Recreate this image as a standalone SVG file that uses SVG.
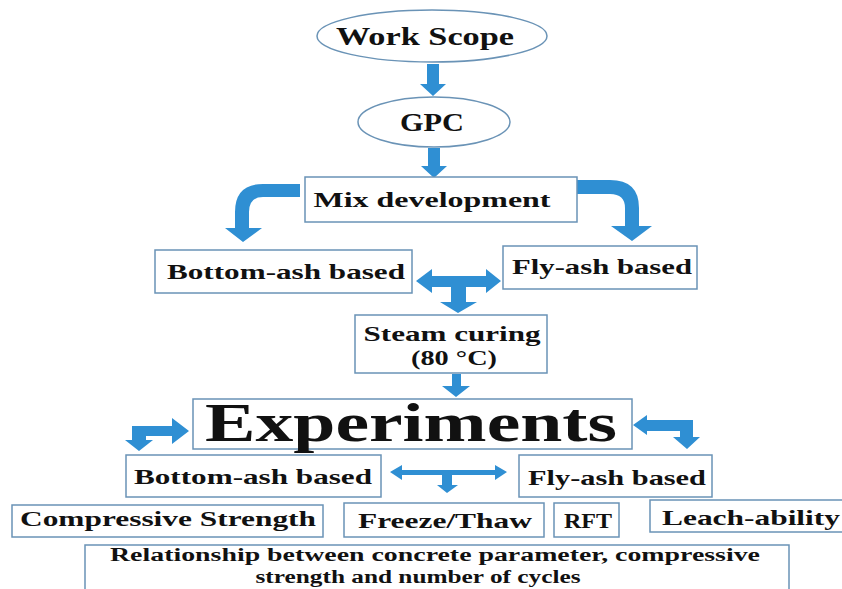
<svg xmlns="http://www.w3.org/2000/svg" width="842" height="589" viewBox="0 0 842 589">
<style>
.bx{fill:#fff;stroke:#6a93b6;stroke-width:1.5}
.el{fill:#fff;stroke:#6a93b6;stroke-width:1.5}
.ar{fill:#2f8fd3}
text{font-family:"Liberation Serif","Times New Roman",serif;font-weight:bold;fill:#111;text-anchor:middle}
.t20{font-size:22px}
.t18{font-size:18px}
</style>
<rect width="842" height="589" fill="#fff"/>
<g id="connectors">
<path class="ar" d="M427,64 L439,64 L439,84 L446,84 L433,96 L420,84 L427,84 Z"/>
<path class="ar" d="M428,148 L440,148 L440,166 L447,166 L434,178 L421,166 L428,166 Z"/>
<path class="ar" d="M300,184 L263,184 Q235,184 235,212 L235,228 L225,228 L243,242 L262,228 L249,228 L249,212 Q249,197 263,197 L300,197 Z"/>
<path class="ar" d="M575,180 L610,180 Q639,180 639,208 L639,226 L652,226 L632,241 L611,226 L625,226 L625,208 Q625,194 610,194 L575,194 Z"/>
<path class="ar" d="M416,281 L432,269 L432,276 L486,276 L486,269 L501,281 L486,293 L486,287 L466,287 L466,302 L477,302 L458,313 L440,302 L451,302 L451,287 L432,287 L432,293 Z"/>
<path class="ar" d="M452,374 L461,374 L461,386 L470,386 L456,397 L442,386 L452,386 Z"/>
<path class="ar" d="M172,418 L189,431 L172,444 L172,436 L146,436 L146,440 L153,440 L139,451 L125,440 L132,440 L132,426 L172,426 Z"/>
<path class="ar" d="M633,425 L647,415 L647,420 L693,420 L693,437 L700,437 L687,449 L673,437 L680,437 L680,431 L647,431 L647,435 Z"/>
<path class="ar" d="M390,472 L402,465 L402,470 L495,470 L495,465 L507,472 L495,480 L495,475 L452,475 L452,485 L458,485 L447,493 L437,485 L442,485 L442,475 L402,475 L402,480 Z"/>
</g>
<g id="work-scope"><ellipse class="el" cx="432" cy="36" rx="115" ry="26"/><text x="425" y="45" style="font-size:26px" textLength="178" lengthAdjust="spacingAndGlyphs">Work Scope</text></g>
<g id="gpc"><ellipse class="el" cx="434" cy="122" rx="76" ry="25"/><text x="432" y="131" style="font-size:26px" textLength="64" lengthAdjust="spacingAndGlyphs">GPC</text></g>
<g id="mix-development"><rect class="bx" x="305" y="177" width="272" height="45"/><text class="t20" x="432" y="207" textLength="237" lengthAdjust="spacingAndGlyphs">Mix development</text></g>
<g id="bottom-ash-1"><rect class="bx" x="155" y="250" width="257" height="43"/><text class="t20" x="286" y="279" textLength="238" lengthAdjust="spacingAndGlyphs">Bottom-ash based</text></g>
<g id="fly-ash-1"><rect class="bx" x="503" y="246" width="194" height="43"/><text class="t20" x="602" y="274" textLength="180" lengthAdjust="spacingAndGlyphs">Fly-ash based</text></g>
<g id="steam-curing"><rect class="bx" x="355" y="315" width="192" height="58"/><text class="t20" x="452" y="341" textLength="177" lengthAdjust="spacingAndGlyphs">Steam curing</text><text class="t20" x="454" y="365" textLength="86" lengthAdjust="spacingAndGlyphs">(80 °C)</text></g>
<g id="experiments"><rect class="bx" x="193" y="399" width="439" height="50"/><text x="411" y="441" style="font-size:55px" textLength="412" lengthAdjust="spacingAndGlyphs">Experiments</text></g>
<g id="bottom-ash-2"><rect class="bx" x="126" y="455" width="255" height="42"/><text class="t20" x="253" y="484" textLength="238" lengthAdjust="spacingAndGlyphs">Bottom-ash based</text></g>
<g id="fly-ash-2"><rect class="bx" x="519" y="455" width="193" height="42"/><text class="t20" x="617" y="485" textLength="178" lengthAdjust="spacingAndGlyphs">Fly-ash based</text></g>
<g id="compressive-strength"><rect class="bx" x="12" y="505" width="311" height="32"/><text class="t20" x="168" y="526" textLength="296" lengthAdjust="spacingAndGlyphs">Compressive Strength</text></g>
<g id="freeze-thaw"><rect class="bx" x="344" y="503" width="200" height="34"/><text class="t20" x="445" y="528" textLength="174" lengthAdjust="spacingAndGlyphs">Freeze/Thaw</text></g>
<g id="rft"><rect class="bx" x="554" y="503" width="65" height="34"/><text class="t20" x="588" y="528" textLength="48" lengthAdjust="spacingAndGlyphs">RFT</text></g>
<g id="leach-ability"><rect class="bx" x="650" y="500" width="200" height="32"/><text class="t20" x="751" y="525" textLength="178" lengthAdjust="spacingAndGlyphs">Leach-ability</text></g>
<g id="relationship"><rect class="bx" x="85" y="545" width="704" height="50"/><text class="t18" x="435" y="561" textLength="650" lengthAdjust="spacingAndGlyphs">Relationship  between concrete parameter, compressive</text><text class="t18" x="418" y="583" textLength="325" lengthAdjust="spacingAndGlyphs">strength and number of cycles</text></g>
</svg>
